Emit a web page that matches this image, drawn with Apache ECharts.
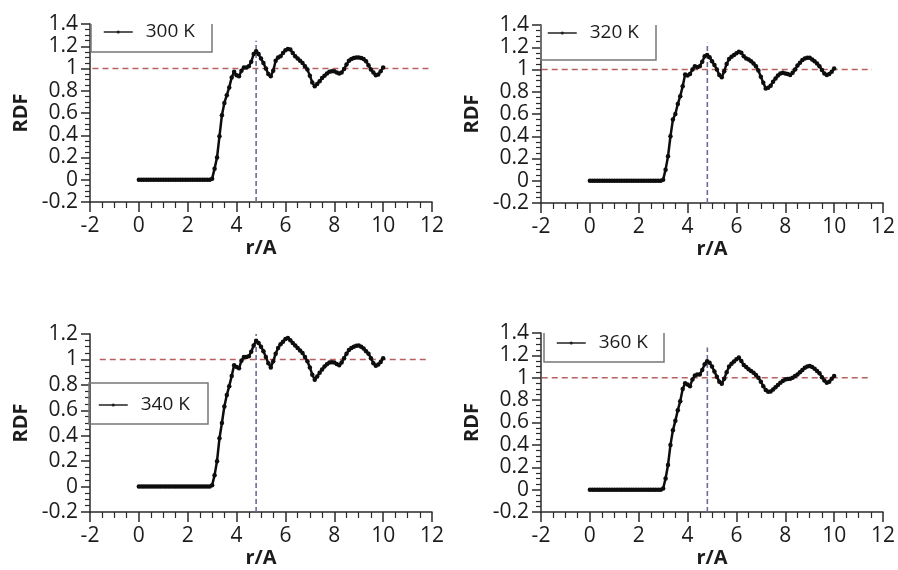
<!DOCTYPE html>
<html>
<head>
<meta charset="utf-8">
<script src="https://cdn.jsdelivr.net/npm/echarts@6/dist/echarts.min.js"></script>
<style>
html,body{margin:0;padding:0;background:#fff;}
#chart{width:898px;height:570px;}
</style>
</head>
<body>
<div id="chart"></div>
<script>
// r grid (Å)
const r = [0,0.1,0.2,0.3,0.4,0.5,0.6,0.7,0.8,0.9,1,1.1,1.2,1.3,1.4,1.5,1.6,1.7,1.8,1.9,2,2.1,2.2,2.3,2.4,2.5,2.6,2.7,2.8,2.9,
  3,3.1,3.2,3.3,3.4,3.5,3.6,3.7,3.8,3.9,4,4.1,4.2,4.3,4.4,4.5,4.6,4.7,4.8,4.9,5,5.1,5.2,5.3,5.4,5.5,5.6,5.7,5.8,5.9,
  6,6.1,6.2,6.3,6.4,6.5,6.6,6.7,6.8,6.9,7,7.1,7.2,7.3,7.4,7.5,7.6,7.7,7.8,7.9,8,8.1,8.2,8.3,8.4,8.5,8.6,8.7,8.8,8.9,
  9,9.1,9.2,9.3,9.4,9.5,9.6,9.7,9.8,9.9,10];

const labels = ['300 K','320 K','340 K','360 K'];

const rdf300 = [0,0,0,0,0,0,0,0,0,0,0,0,0,0,0,0,0,0,0,0,0,0,0,0,0,0,0,0,0,0,
  0.01,0.10,0.20,0.39,0.58,0.69,0.76,0.83,0.92,0.97,0.94,0.93,0.98,1.01,1.01,1.02,1.06,1.13,1.155,1.13,
  1.09,1.05,1.00,0.95,0.93,0.98,1.07,1.10,1.11,1.14,1.165,1.175,1.17,1.14,1.11,1.09,1.07,1.05,1.02,0.99,
  0.935,0.875,0.84,0.86,0.885,0.915,0.935,0.955,0.97,0.975,0.975,0.965,0.955,0.965,0.995,1.035,1.07,1.085,1.095,1.10,
  1.10,1.095,1.085,1.065,1.03,0.99,0.965,0.94,0.945,0.975,1.01];

const rdf320 = [0,0,0,0,0,0,0,0,0,0,0,0,0,0,0,0,0,0,0,0,0,0,0,0,0,0,0,0,0,0,
  0.01,0.10,0.22,0.40,0.55,0.60,0.69,0.76,0.85,0.955,0.945,0.96,1.00,1.03,1.02,1.03,1.07,1.12,1.13,1.11,
  1.075,1.04,1.00,0.95,0.93,0.985,1.05,1.095,1.115,1.13,1.145,1.16,1.15,1.12,1.10,1.09,1.075,1.055,1.03,0.99,
  0.935,0.88,0.83,0.835,0.855,0.89,0.92,0.945,0.965,0.97,0.965,0.96,0.95,0.97,1.00,1.035,1.06,1.085,1.10,1.105,
  1.105,1.09,1.075,1.055,1.03,0.995,0.965,0.95,0.96,0.98,1.01];

const rdf340 = [0,0,0,0,0,0,0,0,0,0,0,0,0,0,0,0,0,0,0,0,0,0,0,0,0,0,0,0,0,0,
  0.01,0.09,0.20,0.38,0.50,0.63,0.72,0.79,0.87,0.955,0.94,0.93,0.99,1.02,1.02,1.025,1.06,1.11,1.147,1.13,
  1.10,1.065,1.02,0.97,0.937,0.985,1.045,1.09,1.12,1.14,1.16,1.168,1.15,1.13,1.11,1.09,1.07,1.05,1.02,0.985,
  0.937,0.88,0.84,0.865,0.895,0.92,0.945,0.962,0.975,0.977,0.975,0.965,0.955,0.975,1.01,1.045,1.075,1.09,1.10,1.108,
  1.11,1.10,1.085,1.065,1.045,1.01,0.97,0.95,0.96,0.98,1.01];

const rdf360 = [0,0,0,0,0,0,0,0,0,0,0,0,0,0,0,0,0,0,0,0,0,0,0,0,0,0,0,0,0,0,
  0.01,0.10,0.22,0.40,0.53,0.615,0.71,0.79,0.90,0.95,0.94,0.925,0.985,1.02,1.03,1.03,1.07,1.12,1.148,1.135,
  1.10,1.055,1.01,0.965,0.946,0.99,1.05,1.10,1.125,1.145,1.165,1.18,1.15,1.115,1.095,1.075,1.06,1.045,1.025,1.0,
  0.965,0.925,0.89,0.875,0.878,0.895,0.915,0.935,0.955,0.972,0.985,0.988,0.99,1.0,1.015,1.03,1.05,1.07,1.09,1.10,
  1.105,1.095,1.08,1.06,1.04,1.005,0.975,0.955,0.965,0.99,1.015];

// reference lines: g = 1 (horizontal) and peak position (vertical)
const refH = [[[-1.9,1],[12,1]], [[-1.97,1],[11.55,1]], [[-1.6,1],[11.9,1]], [[-1.97,1],[11.4,1]]];
const refV = [[[4.8,-0.2],[4.8,1.25]], [[4.81,-0.2],[4.81,1.24]], [[4.8,-0.2],[4.8,1.2]], [[4.81,-0.2],[4.81,1.27]]];

const xTicks = {min:-2, max:12, interval:2};
const yMax = [1.4, 1.4, 1.2, 1.4];

const curves = [rdf300, rdf320, rdf340, rdf360];

const grids = [
  {left:90, top:24, width:342, height:178},
  {left:541, top:25, width:342, height:178},
  {left:90, top:334, width:342, height:178},
  {left:541, top:333, width:342, height:179}
];

const FONT = 'Open Sans';
const axisColor = '#2a2a2a';
const textColor = '#1c1c1c';

const xAxes = grids.map((g,i)=>({
  type:'value', gridIndex:i, min:xTicks.min, max:xTicks.max, interval:xTicks.interval,
  name:'r/A', nameLocation:'middle', nameGap:34,
  nameTextStyle:{fontFamily:FONT, fontWeight:'bold', fontSize:20, color:textColor},
  axisLine:{show:true, onZero:false, lineStyle:{color:axisColor, width:1.5}},
  axisTick:{show:true, length:10, lineStyle:{color:axisColor, width:1.5}},
  minorTick:{show:true, splitNumber:4, length:6, lineStyle:{color:axisColor, width:1.2}},
  splitLine:{show:false},
  axisLabel:{fontFamily:FONT, fontSize:21, color:textColor, margin:14}
}));

const yAxes = grids.map((g,i)=>({
  type:'value', gridIndex:i, min:-0.2, max:yMax[i], interval:0.2,
  name:'RDF', nameLocation:'middle', nameGap:59,
  nameTextStyle:{fontFamily:FONT, fontWeight:'bold', fontSize:20, color:textColor},
  axisLine:{show:true, onZero:false, lineStyle:{color:axisColor, width:1.5}},
  axisTick:{show:true, length:9, lineStyle:{color:axisColor, width:1.5}},
  minorTick:{show:true, splitNumber:4, length:5, lineStyle:{color:axisColor, width:1.2}},
  splitLine:{show:false},
  axisLabel:{fontFamily:FONT, fontSize:21, color:textColor, margin:12}
}));

const series = [];
curves.forEach((c,i)=>{
  series.push({
    type:'line', silent:true, xAxisIndex:i, yAxisIndex:i, data:refH[i],
    symbol:'none', lineStyle:{color:'#b8605f', width:1.6, type:[6,4]}, z:1, animation:false
  });
  series.push({
    type:'line', silent:true, xAxisIndex:i, yAxisIndex:i, data:refV[i],
    symbol:'none', lineStyle:{color:'#6a6a98', width:1.6, type:[5,3]}, z:1, animation:false
  });
  series.push({
    name:labels[i], type:'line', xAxisIndex:i, yAxisIndex:i,
    data:r.map((x,k)=>[x,c[k]]),
    symbol:'circle', symbolSize:4.5, showSymbol:true,
    itemStyle:{color:'#0d0d0d'}, lineStyle:{color:'#0d0d0d', width:2.5},
    z:3, animation:false
  });
});

const legendPos = [
  {left:103, top:21}, {left:547, top:22}, {left:98, top:394}, {left:556, top:332}
];
const legends = legendPos.map((p,i)=>({
  data:[labels[i]], left:p.left, top:p.top, padding:0, orient:'horizontal',
  itemWidth:29, itemHeight:4, selectedMode:false,
  lineStyle:{width:1.5, color:'#222'}, itemStyle:{color:'#222'},
  textStyle:{fontFamily:FONT, fontSize:19, color:textColor, lineHeight:22, padding:[0,0,0,8]}
}));

const boxStyle = {stroke:'#777', lineWidth:1.5, fill:null};
const graphic = [
  {type:'polyline', shape:{points:[[91,24],[91,52],[212,52],[212,24]]}, style:boxStyle, z:10},
  {type:'polyline', shape:{points:[[541,25],[541,60],[656,60],[656,25]]}, style:boxStyle, z:10},
  {type:'rect', shape:{x:89, y:383, width:119, height:41}, style:boxStyle, z:10},
  {type:'polyline', shape:{points:[[544,333],[544,362],[664,362],[664,333]]}, style:boxStyle, z:10}
];

const chart = echarts.init(document.getElementById('chart'), null, {renderer:'canvas'});
chart.setOption({
  backgroundColor:'#fff',
  animation:false,
  grid:grids,
  xAxis:xAxes,
  yAxis:yAxes,
  legend:legends,
  graphic:graphic,
  series:series
});
</script>
</body>
</html>
